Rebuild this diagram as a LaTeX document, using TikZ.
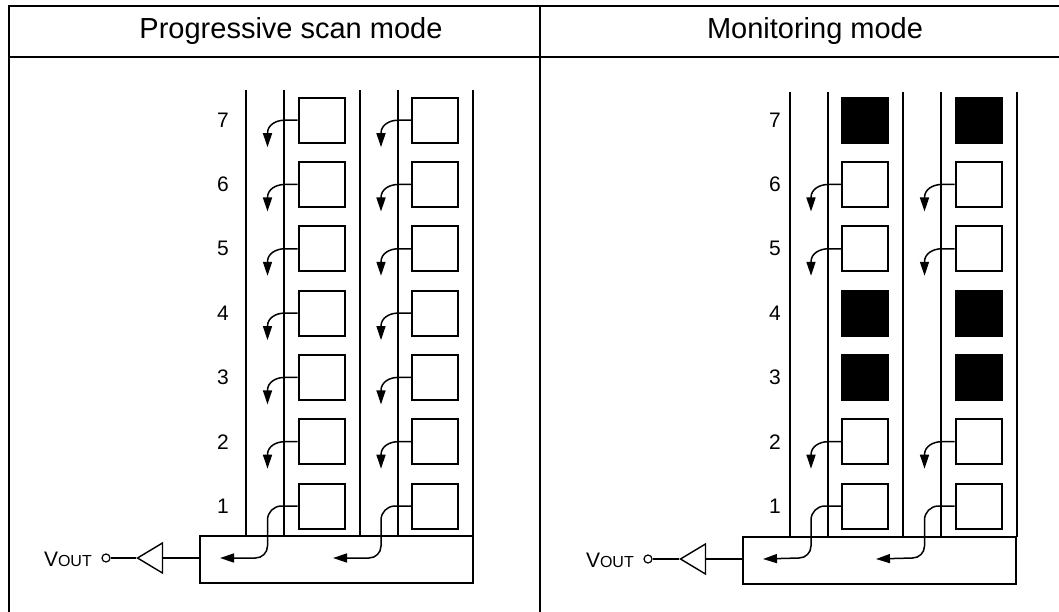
\documentclass[tikz,border=0pt]{standalone}
\usepackage{fontspec}
\setmainfont{Liberation Sans}
\usetikzlibrary{arrows.meta,shapes.geometric}

\tikzset{
    wire/.style={line width=2pt},
    cell/.style={draw, line width=2pt, minimum width=46pt, minimum height=45pt, inner sep=0pt},
    dark/.style={cell, fill=black},
    reg/.style={draw, line width=2pt, minimum width=273pt, minimum height=47pt, inner sep=0pt},
    flow/.style={line width=1.5pt, -{Triangle[length=14pt,width=9pt]}},
    buffer/.style={draw, line width=1.4pt, isosceles triangle, isosceles triangle apex angle=62,
        shape border rotate=180, inner sep=0pt, minimum height=25pt},
    term/.style={draw, circle, line width=1.2pt, inner sep=0pt, minimum size=8pt},
    rowno/.style={font=\fontsize{21}{24}\selectfont},
    head/.style={font=\fontsize{29}{33}\selectfont},
}
\newcommand{\vout}{V{\fontsize{16}{18}\selectfont OUT}}

\begin{document}
\begin{tikzpicture}[x=1pt,y=-1pt]
    \useasboundingbox (0,0) rectangle (1059,612);

    % Draw the frame
    \draw[wire] (9,612) -- (9,6) -- (1059,6);
    \draw[wire] (9,57) -- (1059,57);
    \draw[wire] (540,6) -- (540,612);

    % Define the headings
    \node[head] (hleft) at (291,31) {Progressive scan mode};
    \node[head] (hright) at (815,31) {Monitoring mode};

    % Left panel: columns
    \foreach \x in {246,284,360,398,473}
        \draw[wire] (\x,90) -- (\x,536);

    % Left panel: cells
    \foreach \r in {1,...,7} {
        \node[rowno] (ln\r) at (223,{506-(\r-1)*64.3}) {\r};
        \node[cell] (la\r) at (321.5,{506-(\r-1)*64.3}) {};
        \node[cell] (lb\r) at (435,{506-(\r-1)*64.3}) {};
    }

    % Left panel: register and output
    \node[reg] (lreg) at (336.5,559.5) {};
    \node[buffer] (lbuf) at (154,558) {};
    \node[term] (lout) at (106,558) {};
    \node[anchor=east, inner sep=0pt, rowno] (lvout) at (92,559) {\vout};
    \coordinate (lin1) at (220,558);
    \coordinate (lin2) at (333,558);

    % Left panel: transfers
    \foreach \r in {2,...,7} {
        \draw[flow] (la\r.west) -- ++(-13,0) to[out=180,in=90] ++(-17,13) -- ++(0,14);
        \draw[flow] (lb\r.west) -- ++(-13,0) to[out=180,in=90] ++(-17,13) -- ++(0,14);
    }
    \draw[flow] (la1.west) -- ++(-16,0) to[out=180,in=90] ++(-14,14) -- ++(0,26)
        to[out=270,in=0] ++(-12,12) -- (lin1);
    \draw[flow] (lb1.west) -- ++(-16,0) to[out=180,in=90] ++(-14,14) -- ++(0,26)
        to[out=270,in=0] ++(-12,12) -- (lin2);
    \draw[wire] (lreg.west |- lbuf.lower side) -- (lbuf.lower side);
    \draw[wire] (lbuf.apex) -- (lout.east);

    % Right panel: columns
    \foreach \x in {790,828,903,941,1017}
        \draw[wire] (\x,92) -- (\x,537);

    % Right panel: cells
    \foreach \r in {1,...,7}
        \node[rowno] (rn\r) at (775,{506-(\r-1)*64.3}) {\r};
    \foreach \r in {1,2,5,6} {
        \node[cell] (ra\r) at (865,{506-(\r-1)*64.3}) {};
        \node[cell] (rb\r) at (978.5,{506-(\r-1)*64.3}) {};
    }
    \foreach \r in {3,4,7} {
        \node[dark] (ra\r) at (865,{506-(\r-1)*64.3}) {};
        \node[dark] (rb\r) at (978.5,{506-(\r-1)*64.3}) {};
    }

    % Right panel: register and output
    \node[reg] (rreg) at (879,560) {};
    \node[buffer] (rbuf) at (697,559) {};
    \node[term] (rout) at (648,559) {};
    \node[anchor=east, inner sep=0pt, rowno] (rvout) at (634,560) {\vout};
    \coordinate (rin1) at (763,559);
    \coordinate (rin2) at (876,559);

    % Right panel: transfers
    \foreach \r in {2,5,6} {
        \draw[flow] (ra\r.west) -- ++(-13,0) to[out=180,in=90] ++(-17,13) -- ++(0,14);
        \draw[flow] (rb\r.west) -- ++(-13,0) to[out=180,in=90] ++(-17,13) -- ++(0,14);
    }
    \draw[flow] (ra1.west) -- ++(-16,0) to[out=180,in=90] ++(-14,14) -- ++(0,26)
        to[out=270,in=0] ++(-12,12) -- (rin1);
    \draw[flow] (rb1.west) -- ++(-16,0) to[out=180,in=90] ++(-14,14) -- ++(0,26)
        to[out=270,in=0] ++(-12,12) -- (rin2);
    \draw[wire] (rreg.west |- rbuf.lower side) -- (rbuf.lower side);
    \draw[wire] (rbuf.apex) -- (rout.east);
\end{tikzpicture}
\end{document}
